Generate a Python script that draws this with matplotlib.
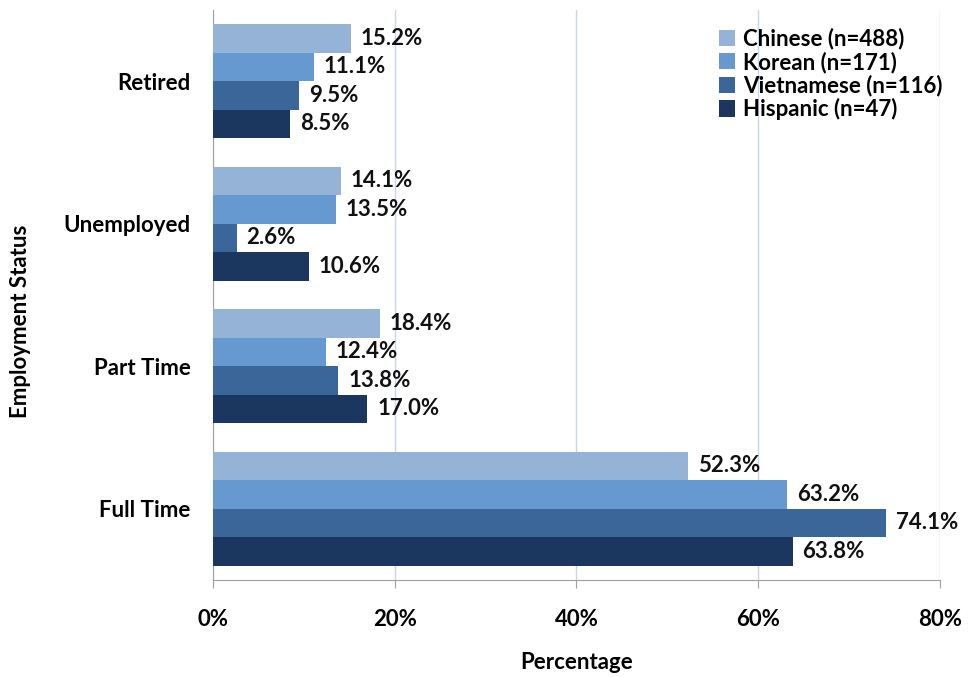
import numpy as np
import matplotlib.pyplot as plt

plt.rcParams['font.family'] = ['Lato', 'DejaVu Sans']
plt.rcParams['font.weight'] = 'bold'

statuses = ['Retired', 'Unemployed', 'Part Time', 'Full Time']
groups = ['Chinese (n=488)', 'Korean (n=171)', 'Vietnamese (n=116)', 'Hispanic (n=47)']
chinese = [15.2, 14.1, 18.4, 52.3]
korean = [11.1, 13.5, 12.4, 63.2]
vietnamese = [9.5, 2.6, 13.8, 74.1]
hispanic = [8.5, 10.6, 17.0, 63.8]
colors = ['#95b3d7', '#6699d0', '#3b6699', '#1b375f']

series = [chinese, korean, vietnamese, hispanic]
fs = 16

fig = plt.figure(figsize=(9.68, 6.77), dpi=100)
ax = fig.add_axes([0.22, 0.1433, 0.751, 0.842])

bh = 0.2
y = np.arange(len(statuses))
for k, (vals, name, c) in enumerate(zip(series, groups, colors)):
    pos = y + (k - 1.5) * bh
    bars = ax.barh(pos, vals, height=bh, color=c, label=name, zorder=3)
    for b, v in zip(bars, vals):
        ax.annotate(f'{v:.1f}%', (b.get_width(), b.get_y() + bh / 2),
                    xytext=(7, 0), textcoords='offset points',
                    va='center', ha='left', fontsize=fs, fontweight='bold',
                    color='#111111')

ax.set_ylim(3.5, -0.5)
ax.set_xlim(0, 80)
ax.set_xticks([0, 20, 40, 60, 80])
ax.set_xticklabels(['0%', '20%', '40%', '60%', '80%'], fontsize=fs, fontweight='bold')
ax.set_yticks(y)
ax.set_yticklabels(statuses, fontsize=fs, fontweight='bold')
ax.tick_params(axis='y', length=0, pad=16)
ax.tick_params(axis='x', length=6, color='#a0a0a0', pad=15)

ax.xaxis.grid(True, color='#c9d5ea', linewidth=1, zorder=0)
for s in ['top', 'right']:
    ax.spines[s].set_visible(False)
for s in ['left', 'bottom']:
    ax.spines[s].set_color('#a0a0a0')

ax.set_xlabel('Percentage', fontsize=fs, fontweight='bold', labelpad=16)
fig.text(0.021, 0.525, 'Employment Status', rotation=90, fontsize=fs,
         fontweight='bold', va='center', ha='center')

ax.legend(loc='upper right', frameon=False, fontsize=fs, handlelength=0.75,
          handleheight=0.75, handletextpad=0.35, labelspacing=0.08,
          borderpad=0.3, bbox_to_anchor=(1.028, 1.0))

fig.savefig('out.png', dpi=100)
